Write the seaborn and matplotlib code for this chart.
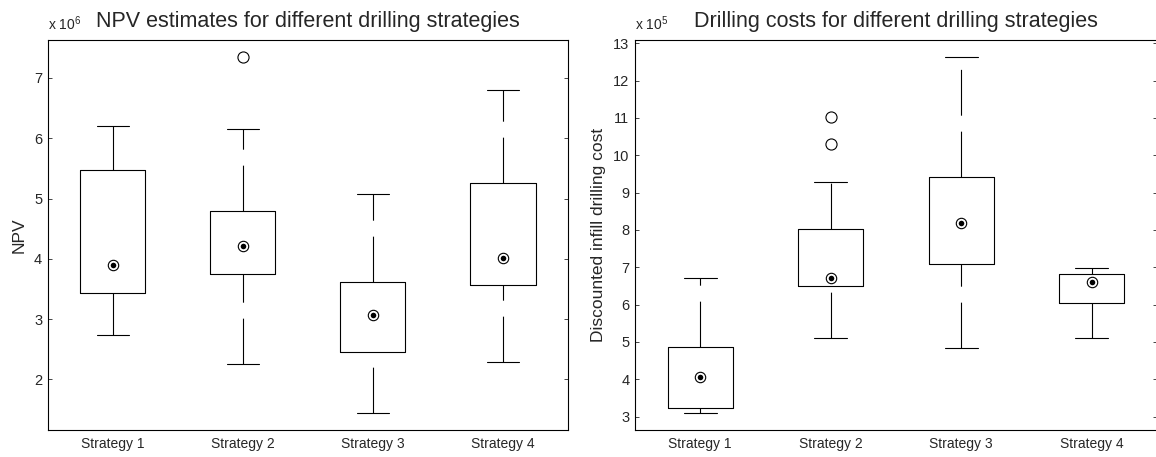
import numpy as np
import pandas as pd
import seaborn as sns
import matplotlib
matplotlib.use("Agg")
import matplotlib.pyplot as plt

strategies = ["Strategy 1", "Strategy 2", "Strategy 3", "Strategy 4"]

# NPV (x 1e6): five-number summaries
npv_low = [2.74, 2.26, 1.45, 2.28]
npv_q1 = [3.43, 3.74, 2.46, 3.57]
npv_med = [3.89, 4.22, 3.07, 4.01]
npv_q3 = [5.48, 4.79, 3.62, 5.26]
npv_high = [6.20, 6.16, 5.08, 6.80]
npv_out_strategy = ["Strategy 2"]
npv_out = [7.35]
npv_ticks = [2, 3, 4, 5, 6, 7]

# drilling cost (x 1e5)
cost_low = [3.10, 5.10, 4.84, 5.10]
cost_q1 = [3.23, 6.49, 7.10, 6.03]
cost_med = [4.06, 6.71, 8.19, 6.61]
cost_q3 = [4.87, 8.03, 9.43, 6.81]
cost_high = [6.72, 9.29, 12.64, 6.97]
cost_out_strategy = ["Strategy 2", "Strategy 2"]
cost_out = [11.03, 10.31]
cost_ticks = [3, 4, 5, 6, 7, 8, 9, 10, 11, 12, 13]

sns.set_style("ticks")
plt.rcParams["font.family"] = ["Liberation Sans", "DejaVu Sans"]
plt.rcParams["mathtext.default"] = "regular"
plt.rcParams["lines.scale_dashes"] = False


def draw_boxes(ax, low, q1, med, q3, high, out_x, out_y, ticks, ylim, title, ylabel, exp):
    df = pd.DataFrame({"strategy": strategies * 5,
                       "value": low + q1 + med + q3 + high})
    sns.boxplot(data=df, x="strategy", y="value", order=strategies, ax=ax,
                whis=(0, 100), width=0.5, fill=False, color="black", linewidth=0.8,
                showfliers=False,
                whiskerprops=dict(linestyle=(0, (33, 11.5))),
                medianprops=dict(linewidth=0))
    # matlab draws whiskers from the low end upwards, so the dashes start there
    for line in ax.lines:
        y = np.asarray(line.get_ydata())
        if line.get_linestyle() == "--" and len(y) == 2 and y[0] > y[1]:
            line.set_xdata(np.asarray(line.get_xdata())[::-1])
            line.set_ydata(y[::-1])

    # median: ringed dot
    sns.stripplot(x=strategies, y=med, order=strategies, jitter=False, ax=ax,
                  color="white", edgecolor="black", linewidth=0.8, size=7.5, zorder=4)
    sns.stripplot(x=strategies, y=med, order=strategies, jitter=False, ax=ax,
                  color="black", linewidth=0, size=4, zorder=5)
    # outliers
    sns.stripplot(x=out_x, y=out_y, order=strategies, jitter=False, ax=ax,
                  color="white", edgecolor="black", linewidth=0.8, size=8, zorder=4)

    ax.set_xlim(-0.5, 3.5)
    ax.set_ylim(*ylim)
    ax.set_yticks(ticks)
    ax.set_yticklabels([str(t) for t in ticks])
    ax.set_xlabel("")
    ax.set_ylabel(ylabel, fontsize=12.5, labelpad=5)
    ax.set_title(title, fontsize=15.5, pad=9)
    ax.text(0, 1.018, "x 10$^{%d}$" % exp, transform=ax.transAxes,
            ha="left", va="bottom", fontsize=10)
    ax.tick_params(axis="y", direction="in", left=True, right=True, length=3,
                   width=0.6, labelsize=10.5, pad=4)
    ax.tick_params(axis="x", length=0, labelsize=10, pad=5)
    for s in ax.spines.values():
        s.set_visible(True)
        s.set_color("black")
        s.set_linewidth(0.8)


fig = plt.figure(figsize=(11.56, 4.57), dpi=100)
ax1 = fig.add_axes([0.0413, 0.0591, 0.4501, 0.8534])
ax2 = fig.add_axes([0.5493, 0.0591, 0.4516, 0.8534])

draw_boxes(ax1, npv_low, npv_q1, npv_med, npv_q3, npv_high, npv_out_strategy, npv_out,
           npv_ticks, (1.16, 7.63), "NPV estimates for different drilling strategies", "NPV", 6)
draw_boxes(ax2, cost_low, cost_q1, cost_med, cost_q3, cost_high, cost_out_strategy, cost_out,
           cost_ticks, (2.64, 13.09), "Drilling costs for different drilling strategies",
           "Discounted infill drilling cost", 5)

fig.savefig("out.png", dpi=100)
